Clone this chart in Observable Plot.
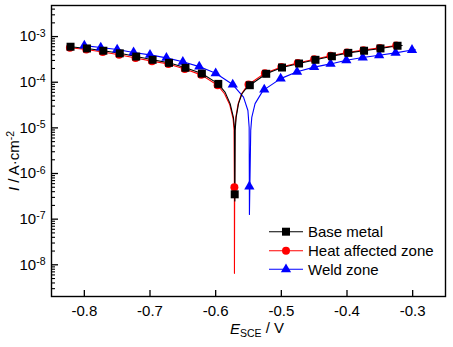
<!DOCTYPE html>
<html><head><meta charset="utf-8">
<script src="https://cdn.jsdelivr.net/npm/d3@7"></script>
<script src="https://cdn.jsdelivr.net/npm/@observablehq/plot@0.6"></script>
<style>
body{margin:0;background:#fff;}
#chart{position:relative;width:453px;height:347px;}
</style>
</head><body><div id="chart"></div>
<script>
// ---- series metadata ----
const seriesNames = ["Base metal", "Heat affected zone", "Weld zone"];
const seriesColors = ["#000000", "#ff0000", "#0000ff"];
const seriesSymbols = ["square", "circle", "triangle"];

// ---- Base metal: marker points (E / V vs SCE, I / A·cm^-2) ----
const baseMarkE = [-0.821, -0.796, -0.771, -0.746, -0.721, -0.696, -0.671, -0.646, -0.621, -0.596, -0.571, -0.548, -0.523, -0.499, -0.473, -0.448, -0.423, -0.398, -0.374, -0.349, -0.323];
const baseMarkI = [6.0e-4, 5.5e-4, 4.9e-4, 4.3e-4, 3.65e-4, 3.1e-4, 2.66e-4, 2.07e-4, 1.55e-4, 9.2e-5, 3.5e-7, 8.6e-5, 1.53e-4, 2.1e-4, 2.57e-4, 3.1e-4, 3.7e-4, 4.4e-4, 4.9e-4, 5.5e-4, 6.3e-4];
// extra curve points read between markers
const baseCurveE = [-0.825, -0.5855, -0.578, -0.573, -0.5713, -0.5708, -0.5703, -0.5688, -0.5652, -0.560, -0.5543, -0.316];
const baseCurveI = [6.1e-4, 6.0e-5, 3.4e-5, 1.7e-5, 1.0e-5, 2.5e-7, 8.8e-6, 1.7e-5, 3.4e-5, 5.6e-5, 7.1e-5, 6.4e-4];

// ---- Heat affected zone ----
const hazMarkE = [-0.822, -0.797, -0.772, -0.747, -0.722, -0.697, -0.672, -0.647, -0.622, -0.597, -0.5715, -0.550, -0.525, -0.500, -0.475, -0.450, -0.425, -0.400, -0.375, -0.350, -0.325];
const hazMarkI = [5.7e-4, 5.2e-4, 4.6e-4, 4.0e-4, 3.4e-4, 2.9e-4, 2.5e-4, 1.95e-4, 1.45e-4, 8.6e-5, 5.0e-7, 8.9e-5, 1.58e-4, 2.16e-4, 2.65e-4, 3.2e-4, 3.8e-4, 4.5e-4, 5.05e-4, 5.65e-4, 6.4e-4];
const hazCurveE = [-0.5865, -0.5785, -0.5735, -0.572, -0.5714, -0.5708, -0.5693, -0.5657, -0.5605, -0.5553];
const hazCurveI = [5.6e-5, 3.2e-5, 1.6e-5, 9.0e-6, 6.5e-9, 8.5e-6, 1.7e-5, 3.4e-5, 5.6e-5, 7.2e-5];

// ---- Weld zone ----
const weldMarkE = [-0.800, -0.775, -0.750, -0.725, -0.700, -0.675, -0.650, -0.625, -0.600, -0.574, -0.5487, -0.526, -0.501, -0.476, -0.450, -0.425, -0.401, -0.376, -0.351, -0.326, -0.301];
const weldMarkI = [6.35e-4, 5.75e-4, 5.2e-4, 4.5e-4, 3.98e-4, 3.42e-4, 2.8e-4, 2.2e-4, 1.57e-4, 8.9e-5, 5.2e-7, 6.9e-5, 1.2e-4, 1.69e-4, 2.14e-4, 2.52e-4, 3.03e-4, 3.47e-4, 3.9e-4, 4.4e-4, 5.1e-4];
const weldCurveE = [-0.5576, -0.5509, -0.5490, -0.5486, -0.5466, -0.5450, -0.5400, -0.5296, -0.296];
const weldCurveI = [4.7e-5, 2.4e-5, 1.03e-5, 1.26e-7, 8.8e-6, 1.7e-5, 3.4e-5, 6.0e-5, 5.15e-4];

// ---- axis ticks and labels ----
const xTicks = [-0.8, -0.7, -0.6, -0.5, -0.4, -0.3];
const xTickLabels = ["-0.8", "-0.7", "-0.6", "-0.5", "-0.4", "-0.3"];
const yTicks = [1e-8, 1e-7, 1e-6, 1e-5, 1e-4, 1e-3];
const yTickExponents = ["-8", "-7", "-6", "-5", "-4", "-3"];

// ---- build tables ----
function pts(E, I, name) { return E.map((e, i) => ({E: e, I: I[i], series: name})); }
const markers = [
  pts(baseMarkE, baseMarkI, seriesNames[0]),
  pts(hazMarkE, hazMarkI, seriesNames[1]),
  pts(weldMarkE, weldMarkI, seriesNames[2])
];
const curves = [
  pts(baseMarkE, baseMarkI, seriesNames[0]).concat(pts(baseCurveE, baseCurveI, seriesNames[0])),
  pts(hazMarkE, hazMarkI, seriesNames[1]).concat(pts(hazCurveE, hazCurveI, seriesNames[1])),
  pts(weldMarkE, weldMarkI, seriesNames[2]).concat(pts(weldCurveE, weldCurveI, seriesNames[2]))
].map(c => c.sort((a, b) => a.E - b.E));

const minorY = [];
for (let p = -9; p <= -3; p++) for (let m = 2; m <= 9; m++) { const v = m * Math.pow(10, p); if (v > 2.02e-9 && v < 4.8e-3) minorY.push(v); }

const symbolR = {square: 4.5, circle: 4, triangle: 3.8};
const drawOrder = [1, 2, 0];
const seriesMarks = [];
for (const k of drawOrder) {
  seriesMarks.push(Plot.line(curves[k], {x: "E", y: "I", stroke: seriesColors[k], strokeWidth: 1.1, curve: "linear"}));
}
for (const k of drawOrder) {
  seriesMarks.push(Plot.dot(markers[k], {x: "E", y: "I", symbol: () => seriesSymbols[k], r: symbolR[seriesSymbols[k]], fill: seriesColors[k], stroke: "none"}));
}

const FONT = "'Liberation Sans', Arial, sans-serif";
const plot = Plot.plot({
  width: 453, height: 347,
  marginLeft: 51, marginRight: 8, marginTop: 5, marginBottom: 51,
  style: {fontFamily: FONT, fontSize: "15px", background: "#fff", color: "#000", overflow: "visible"},
  x: {domain: [-0.85, -0.25]},
  y: {type: "log", domain: [2.02e-9, 4.8e-3]},
  symbol: {domain: ["square", "circle", "triangle"], range: ["square", "circle", "triangle"]},
  marks: [
    ...seriesMarks,
    Plot.axisX({ticks: xTicks, tickSize: -6, tickFormat: () => "", label: null, strokeWidth: 1.3}),
    Plot.axisX({ticks: xTicks, tickSize: 0, tickPadding: 9, tickFormat: d => xTickLabels[xTicks.indexOf(d)], label: null, fontSize: 15}),
    Plot.axisY({ticks: yTicks, tickSize: -7, tickFormat: () => "", label: null, strokeWidth: 1.3}),
    Plot.axisY({ticks: minorY, tickSize: -4, tickFormat: () => "", label: null, strokeWidth: 1.1}),
    Plot.axisY({ticks: yTicks, tickSize: 0, tickPadding: 6, tickFormat: d => "10^" + yTickExponents[yTicks.indexOf(d)], label: null, fontSize: 15}),
    Plot.frame({stroke: "#000", strokeWidth: 1.4})
  ]
});
document.getElementById("chart").appendChild(plot);

const svg = d3.select(plot);
// superscripts in y tick labels
svg.selectAll('g[aria-label="y-axis tick label"] text').each(function () {
  const t = d3.select(this);
  const s = t.text();
  if (s.indexOf("^") < 0) return;
  const [base, ex] = s.split("^");
  t.text(null);
  t.append("tspan").text(base);
  t.append("tspan").attr("dy", "-0.45em").attr("font-size", "10.5px").text(ex);
});

// axis titles
const yTitle = svg.append("text")
  .attr("transform", "translate(19,161) rotate(-90)")
  .attr("text-anchor", "middle").attr("font-family", FONT).attr("font-size", 15).attr("fill", "#000");
yTitle.append("tspan").attr("font-style", "italic").text("I");
yTitle.append("tspan").text(" / A·cm");
yTitle.append("tspan").attr("dy", "-0.5em").attr("font-size", "10.5px").text("-2");

const xTitle = svg.append("text")
  .attr("x", 257).attr("y", 334)
  .attr("text-anchor", "middle").attr("font-family", FONT).attr("font-size", 15).attr("fill", "#000");
xTitle.append("tspan").attr("font-style", "italic").text("E");
xTitle.append("tspan").attr("dy", "0.3em").attr("font-size", "10.5px").text("SCE");
xTitle.append("tspan").attr("dy", "-0.3em").text(" / V");

// legend
const legendRowsY = [231.7, 250.7, 269.3];
const lg = svg.append("g");
seriesNames.forEach((name, k) => {
  const y = legendRowsY[k];
  lg.append("line").attr("x1", 269).attr("x2", 303).attr("y1", y).attr("y2", y).attr("stroke", seriesColors[k]).attr("stroke-width", 1.1);
  const sym = {square: d3.symbolSquare, circle: d3.symbolCircle, triangle: d3.symbolTriangle}[seriesSymbols[k]];
  const r = symbolR[seriesSymbols[k]];
  lg.append("path").attr("transform", `translate(286,${y})`).attr("d", d3.symbol(sym, r * r * Math.PI)()).attr("fill", seriesColors[k]);
  lg.append("text").attr("x", 308).attr("y", y + 5.3).attr("text-anchor", "start").attr("font-family", FONT).attr("font-size", 15).attr("fill", "#000").text(name);
});
</script>
</body></html>
